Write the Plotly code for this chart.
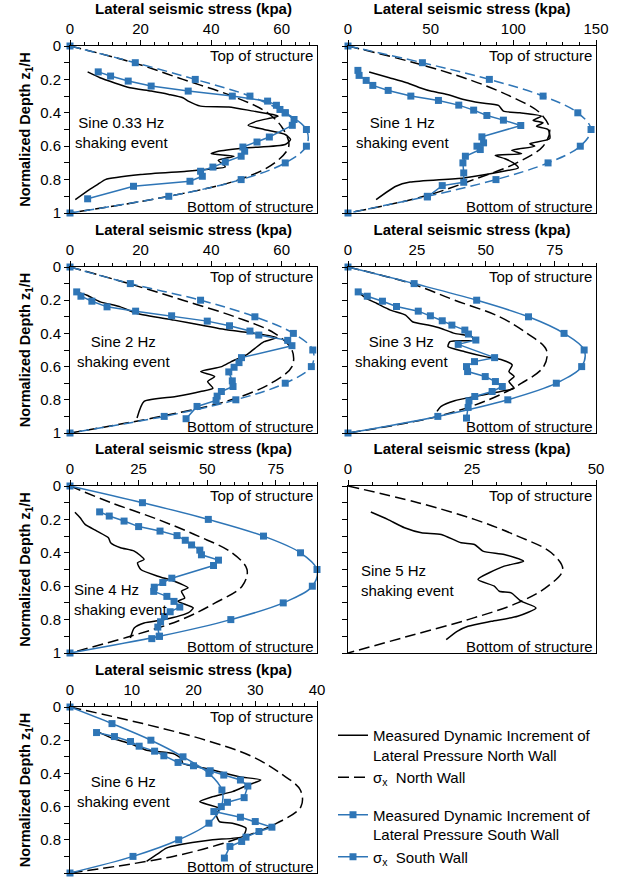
import plotly.graph_objects as go

W, H = 617, 878
BLUE = "#2E75B6"
BLACK = "#000000"
FONT = "Liberation Sans, Arial, sans-serif"

# Normalized depth grid used by the analytical sigma_x profiles
DEPTH_GRID = [0.0, 0.1, 0.2, 0.3, 0.4, 0.5, 0.6, 0.7, 0.8, 0.9, 1.0]

# ---------------- Sine 0.33 Hz ----------------
s033_north_meas_d = [0.155, 0.19, 0.22, 0.25, 0.27, 0.29, 0.31, 0.33, 0.36, 0.365, 0.39, 0.41, 0.42,
                     0.45, 0.475, 0.50, 0.53, 0.56, 0.59, 0.61, 0.63, 0.645, 0.66, 0.685, 0.71, 0.725,
                     0.74, 0.75, 0.77, 0.80, 0.82, 0.86, 0.92]
s033_north_meas_v = [5, 8.5, 12.5, 17, 23, 28, 32, 33.5, 37, 45, 52, 57.5, 59,
                     53, 50.5, 55, 61, 62.5, 61, 50, 42, 40, 46.5, 42, 43.5, 44,
                     38, 33, 20, 10, 8.5, 5.5, 1.5]
s033_south_meas_d = [0.155, 0.18, 0.21, 0.24, 0.27, 0.30, 0.33, 0.355, 0.38, 0.40, 0.44, 0.475,
                     0.545, 0.575, 0.605, 0.63, 0.66, 0.695, 0.725, 0.75, 0.78, 0.81, 0.84, 0.915]
s033_south_meas_v = [8, 11.5, 16.5, 23, 33.5, 46, 56, 58.5, 59.5, 61, 63.5, 63,
                     56.5, 53, 49, 49.5, 48.5, 44, 40.5, 37, 37.5, 34, 18, 5]
s033_north_sigma = [0, 18, 32, 46, 56, 60.5, 62, 58, 48, 28, 0]
s033_south_sigma = [0, 18.5, 35.5, 51, 61, 67, 67, 61, 48.5, 28, 0]

# ---------------- Sine 1 Hz ----------------
s1_north_meas_d = [0.156, 0.19, 0.22, 0.25, 0.27, 0.29, 0.32, 0.34, 0.356, 0.39, 0.40, 0.42, 0.445,
                   0.46, 0.48, 0.50, 0.555, 0.585, 0.60, 0.625, 0.645, 0.655, 0.675, 0.70, 0.73,
                   0.75, 0.79, 0.815, 0.84, 0.92]
s1_north_meas_v = [12.8, 25, 35.5, 43.5, 50, 60, 70, 80, 91, 94, 104, 117, 112,
                   118, 114, 121, 122, 110, 113, 99, 105, 89, 95, 100, 103,
                   94, 70, 37.5, 29, 17]
s1_south_meas_d = [0.146, 0.176, 0.206, 0.236, 0.266, 0.30, 0.326, 0.354, 0.384, 0.416, 0.444, 0.476,
                   0.544, 0.58, 0.60, 0.62, 0.66, 0.70, 0.76, 0.816, 0.836, 0.904]
s1_south_meas_v = [6, 6.7, 11, 15, 24.3, 38, 54.7, 67, 76, 84, 94, 104.5,
                   81, 82, 78, 80, 71, 69.5, 70, 70, 57, 48]
s1_north_sigma = [0, 40, 73, 98, 116, 122, 118, 102, 76, 46, 0]
s1_south_sigma = [0, 45, 85.5, 118, 139, 147, 140.5, 121, 89.5, 48, 0]

# ---------------- Sine 2 Hz ----------------
s2_north_meas_d = [0.15, 0.17, 0.21, 0.24, 0.28, 0.32, 0.35, 0.38, 0.40, 0.425, 0.45, 0.49, 0.53,
                   0.57, 0.60, 0.63, 0.66, 0.69, 0.73, 0.75, 0.78, 0.81, 0.91]
s2_north_meas_v = [1.9, 4.8, 8.6, 14.3, 19, 29.5, 37, 44.8, 52.4, 58.6, 55, 52.4, 50,
                   45.7, 43, 37, 41, 39, 40.5, 37, 30, 21, 19]
s2_south_meas_d = [0.15, 0.176, 0.206, 0.24, 0.266, 0.294, 0.326, 0.354, 0.386, 0.41, 0.442, 0.474,
                   0.546, 0.576, 0.604, 0.632, 0.686, 0.72, 0.75, 0.778, 0.804, 0.84, 0.914]
s2_south_meas_v = [1.9, 3.1, 6.2, 10.5, 18.6, 28.8, 38.9, 45.2, 51, 53.5, 61.7, 62.9,
                   48.6, 47.9, 46.5, 45, 46, 46.2, 42.9, 41.7, 41.4, 36, 32.9]
s2_north_sigma = [0, 16.7, 32, 46.7, 58, 62.9, 62.9, 57, 45.7, 25.7, 0]
s2_south_sigma = [0, 17.1, 37, 52.4, 63.3, 68.8, 68.4, 61, 47, 26.7, 0]

# ---------------- Sine 3 Hz ----------------
s3_north_meas_d = [0.16, 0.19, 0.22, 0.26, 0.29, 0.33, 0.35, 0.37, 0.40, 0.42, 0.44, 0.45, 0.48,
                   0.51, 0.54, 0.56, 0.59, 0.63, 0.66, 0.69, 0.73, 0.75, 0.78, 0.806, 0.84, 0.87]
s3_north_meas_v = [4.3, 6.8, 10.5, 15.4, 20.9, 23.4, 29, 33.8, 38.7, 45, 45.5, 37, 36.3,
                   42.4, 49.8, 56, 59.6, 58.4, 60.3, 58.4, 60.3, 55.3, 46, 38.7, 33.8, 32.3]
s3_south_meas_d = [0.15, 0.176, 0.206, 0.238, 0.266, 0.294, 0.324, 0.35, 0.38, 0.404, 0.44, 0.466,
                   0.546, 0.57, 0.60, 0.63, 0.66, 0.69, 0.72, 0.75, 0.78, 0.806, 0.846, 0.91]
s3_south_meas_v = [3.7, 7, 12.5, 17.6, 25.5, 29.9, 34.2, 37.7, 42.4, 43.7, 46.4, 40,
                   53.2, 45.9, 43, 43.4, 49.8, 53.5, 56, 52.3, 46, 43.9, 43.6, 43]
s3_north_sigma = [0, 23, 38.7, 55, 65, 72, 71, 63, 51, 32.6, 0]
s3_south_sigma = [0, 24, 46.7, 65.5, 78.4, 85.7, 84.8, 75.6, 58, 32.6, 0]

# ---------------- Sine 4 Hz ----------------
s4_north_meas_d = [0.157, 0.19, 0.23, 0.27, 0.31, 0.34, 0.37, 0.39, 0.44, 0.46, 0.50, 0.54, 0.57,
                   0.61, 0.63, 0.67, 0.69, 0.73, 0.76, 0.80, 0.82, 0.85, 0.91]
s4_north_meas_v = [1.8, 3.7, 5.5, 9.8, 14, 14.8, 18.4, 23.4, 27, 24.6, 25.8, 32, 38,
                   43, 40.6, 41.8, 39.3, 44.9, 43, 34.4, 27, 23.4, 22]
s4_south_meas_d = [0.155, 0.18, 0.21, 0.243, 0.27, 0.297, 0.325, 0.353, 0.384, 0.412, 0.444, 0.476,
                   0.552, 0.578, 0.606, 0.631, 0.661, 0.691, 0.725, 0.753, 0.781, 0.813, 0.845,
                   0.90, 0.914]
s4_south_meas_v = [10.8, 14.3, 19.7, 25, 32.8, 39, 42, 44.3, 47.3, 47.9, 54.1, 52.3,
                   37.1, 33.8, 30.7, 30.5, 35.3, 37.9, 40, 36.5, 34.4, 33, 32,
                   32.5, 29.8]
s4_north_sigma = [0, 15, 32, 46.7, 59, 64.5, 62.7, 52.9, 40.6, 22, 0]
s4_south_sigma = [0, 26.4, 50.4, 70.5, 84, 90, 88.3, 77.7, 58.6, 32.6, 0]

# ---------------- Sine 5 Hz ----------------
s5_north_meas_d = [0.156, 0.2, 0.25, 0.28, 0.29, 0.34, 0.35, 0.39, 0.41, 0.45, 0.48, 0.56, 0.60,
                   0.63, 0.64, 0.69, 0.73, 0.78, 0.81, 0.84, 0.87, 0.92]
s5_north_meas_v = [4.6, 8, 11.4, 14.8, 18.8, 22.8, 25.5, 27.2, 31.5, 35.4, 31.5, 26.2, 29.5,
                   30.5, 32.9, 34.9, 37.9, 34.2, 28.9, 24.2, 22, 19.8]
s5_north_sigma = [0, 14.1, 25.5, 34.2, 41, 43.3, 40.3, 34.2, 24.2, 12.1, 0]

# ---------------- Sine 6 Hz ----------------
s6_north_meas_d = [0.154, 0.19, 0.22, 0.26, 0.28, 0.31, 0.34, 0.37, 0.39, 0.42, 0.44, 0.47, 0.51,
                   0.54, 0.57, 0.59, 0.61, 0.65, 0.69, 0.70, 0.73, 0.78, 0.80, 0.83, 0.85, 0.89, 0.93]
s6_north_meas_v = [4.8, 7, 9.7, 12.4, 16.7, 18, 18.3, 22, 24.2, 27.4, 30.9, 28.8, 26.3,
                   23.1, 21, 22.6, 24.2, 23.7, 24.2, 26.3, 28.5, 28, 23.1, 17.7, 15.6, 14, 12.4]
s6_south_meas_d = [0.154, 0.178, 0.208, 0.236, 0.266, 0.294, 0.334, 0.354, 0.384, 0.41, 0.44, 0.476,
                   0.546, 0.574, 0.63, 0.664, 0.69, 0.724, 0.75, 0.784, 0.81, 0.84, 0.91]
s6_south_meas_v = [4.3, 7.2, 9.8, 11.2, 13.7, 15.2, 17.5, 20, 22.7, 24.9, 27.6, 28.8,
                   28.2, 25.5, 23.3, 27.6, 30, 32.7, 30.6, 28.5, 27.8, 25.9, 25]
s6_north_sigma = [0, 11.8, 22, 29.6, 34.1, 37.3, 37.4, 33.5, 26.6, 16.7, 0]
s6_south_sigma = [0, 6.8, 13.1, 18.3, 22.5, 24.6, 24.5, 22.5, 17.6, 10.2, 0]

EVENT_LABELS = ["Sine 0.33 Hz", "Sine 1 Hz", "Sine 2 Hz", "Sine 3 Hz",
                "Sine 4 Hz", "Sine 5 Hz", "Sine 6 Hz"]
X_MAX = [70, 150, 70, 90, 90, 50, 40]
X_MAJOR = [20, 50, 20, 25, 25, 25, 10]

LEGEND_NAMES = ["Measured Dynamic Increment of<br>Lateral Pressure North Wall",
                "σ<sub>x</sub>  North Wall",
                "Measured Dynamic Increment of<br>Lateral Pressure South Wall",
                "σ<sub>x</sub>  South Wall"]

# Plot-area boxes in pixels: (left, right) per column, (top, bottom) per row
COLS = [(70, 317), (348, 596)]
ROWS = [(46, 213), (267, 433), (486, 653), (707, 873)]

panels = [
    dict(nm=(s033_north_meas_d, s033_north_meas_v), ns=s033_north_sigma,
         sm=(s033_south_meas_d, s033_south_meas_v), ss=s033_south_sigma, ss_dash=True,
         lab=(0.21, 0.515, "center")),
    dict(nm=(s1_north_meas_d, s1_north_meas_v), ns=s1_north_sigma,
         sm=(s1_south_meas_d, s1_south_meas_v), ss=s1_south_sigma, ss_dash=True,
         lab=(0.218, 0.515, "center")),
    dict(nm=(s2_north_meas_d, s2_north_meas_v), ns=s2_north_sigma,
         sm=(s2_south_meas_d, s2_south_meas_v), ss=s2_south_sigma, ss_dash=True,
         lab=(0.215, 0.51, "center")),
    dict(nm=(s3_north_meas_d, s3_north_meas_v), ns=s3_north_sigma,
         sm=(s3_south_meas_d, s3_south_meas_v), ss=s3_south_sigma, ss_dash=False,
         lab=(0.214, 0.51, "center")),
    dict(nm=(s4_north_meas_d, s4_north_meas_v), ns=s4_north_sigma,
         sm=(s4_south_meas_d, s4_south_meas_v), ss=s4_south_sigma, ss_dash=False,
         lab=(0.01, 0.68, "left")),
    dict(nm=(s5_north_meas_d, s5_north_meas_v), ns=s5_north_sigma,
         sm=None, ss=None, ss_dash=False,
         lab=(0.044, 0.565, "left")),
    dict(nm=(s6_north_meas_d, s6_north_meas_v), ns=s6_north_sigma,
         sm=(s6_south_meas_d, s6_south_meas_v), ss=s6_south_sigma, ss_dash=False,
         lab=(0.215, 0.51, "center")),
]

TXT = dict(family=FONT, size=15, color=BLACK)

fig = go.Figure()
annotations = []
LEGEND_PANEL = 3  # the Sine 3 Hz panel carries every line style

for i, p in enumerate(panels):
    n = i + 1
    xs = "x" if n == 1 else f"x{n}"
    ys = "y" if n == 1 else f"y{n}"
    col = i % 2
    row = i // 2
    left, right = COLS[col]
    top, bottom = ROWS[row]
    show_leg = (i == LEGEND_PANEL)

    # measured north wall increment
    d, v = p["nm"]
    fig.add_trace(go.Scatter(x=v, y=d, xaxis=xs, yaxis=ys, mode="lines",
                             line=dict(color=BLACK, width=1.5, shape="spline", smoothing=0.6),
                             name=LEGEND_NAMES[0], legendgroup="north", showlegend=show_leg,
                             cliponaxis=False))
    # sigma_x north wall
    fig.add_trace(go.Scatter(x=p["ns"], y=DEPTH_GRID, xaxis=xs, yaxis=ys, mode="lines",
                             line=dict(color=BLACK, width=1.5, dash="11px,5px", shape="spline"),
                             name=LEGEND_NAMES[1], legendgroup="north", showlegend=show_leg,
                             cliponaxis=False))
    if p["sm"] is not None:
        d, v = p["sm"]
        fig.add_trace(go.Scatter(x=v, y=d, xaxis=xs, yaxis=ys, mode="lines+markers",
                                 line=dict(color=BLUE, width=1.5),
                                 marker=dict(symbol="square", size=7, color=BLUE),
                                 name=LEGEND_NAMES[2], legendgroup="south", showlegend=show_leg,
                                 cliponaxis=False))
        fig.add_trace(go.Scatter(x=p["ss"], y=DEPTH_GRID, xaxis=xs, yaxis=ys,
                                 mode="lines+markers",
                                 line=dict(color=BLUE, width=1.5, shape="spline",
                                           dash="10px,5px" if p["ss_dash"] else "solid"),
                                 marker=dict(symbol="square", size=7, color=BLUE),
                                 name=LEGEND_NAMES[3], legendgroup="south", showlegend=show_leg,
                                 cliponaxis=False))

    xkey = "xaxis" if n == 1 else f"xaxis{n}"
    ykey = "yaxis" if n == 1 else f"yaxis{n}"
    fig.update_layout(**{
        xkey: dict(domain=[left / W, right / W], anchor=ys, side="top", automargin=False,
                   range=[0, X_MAX[i]], tick0=0, dtick=X_MAJOR[i], autorange=False,
                   ticks="outside", ticklen=5, tickwidth=1, tickcolor=BLACK,
                   minor=dict(dtick=X_MAJOR[i] / 5, ticks="outside", ticklen=3,
                              tickcolor=BLACK, showgrid=False),
                   showline=True, linecolor=BLACK, linewidth=1, mirror=True,
                   showgrid=False, zeroline=False,
                   tickfont=TXT,
                   title=dict(text="Lateral seismic stress (kpa)", standoff=1,
                              font=dict(family=FONT, size=15, color=BLACK, weight="bold"))),
        ykey: dict(domain=[1 - bottom / H, 1 - top / H], anchor=xs, automargin=False,
                   range=[1, 0], tick0=0, dtick=0.2, autorange=False,
                   ticks="outside", ticklen=5, tickwidth=1, tickcolor=BLACK,
                   minor=dict(dtick=0.1, ticks="outside", ticklen=5,
                              tickcolor=BLACK, showgrid=False),
                   showline=True, linecolor=BLACK, linewidth=1, mirror=True,
                   showgrid=False, zeroline=False,
                   showticklabels=(col == 0),
                   tickfont=TXT,
                   title=dict(text="Normalized Depth z<sub>1</sub>/H" if col == 0 else "",
                              standoff=6,
                              font=dict(family=FONT, size=14.5, color=BLACK, weight="bold"))),
    })

    xdom = f"{xs} domain"
    annotations += [
        dict(x=1, y=0.055, xref=xdom, yref=ys, text="Top of structure", showarrow=False,
             xanchor="right", yanchor="middle", xshift=-2, font=TXT),
        dict(x=1, y=0.962, xref=xdom, yref=ys, text="Bottom of structure", showarrow=False,
             xanchor="right", yanchor="middle", xshift=-1, font=TXT),
        dict(x=p["lab"][0], y=p["lab"][1], xref=xdom, yref=ys,
             text=EVENT_LABELS[i] + "<br>shaking event", showarrow=False,
             xanchor=p["lab"][2], yanchor="middle", align=p["lab"][2], font=TXT),
    ]

fig.update_layout(
    width=W, height=H,
    margin=dict(l=0, r=0, t=0, b=0, autoexpand=False),
    paper_bgcolor="white", plot_bgcolor="white",
    font=TXT,
    annotations=annotations,
    showlegend=True,
    legend=dict(x=333 / W, y=1 - 719 / H, xanchor="left", yanchor="top",
                traceorder="grouped", tracegroupgap=15, valign="top",
                bgcolor="rgba(0,0,0,0)", font=TXT),
)

fig.write_html("out.html")
